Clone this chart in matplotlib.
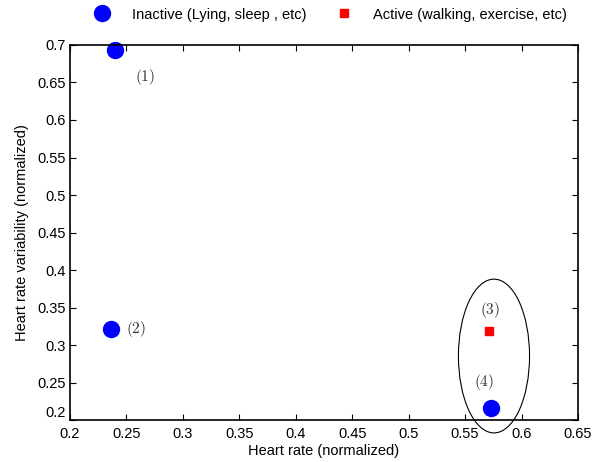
import matplotlib
matplotlib.use("Agg")
import matplotlib.pyplot as plt
from matplotlib.patches import Ellipse

plt.rcParams["font.family"] = ["Liberation Sans", "DejaVu Sans"]
plt.rcParams["mathtext.fontset"] = "cm"

# inactive (blue circles) and active (red square) samples
inactive_hr = [0.2399, 0.2363, 0.5730]
inactive_hrv = [0.6933, 0.3213, 0.2160]
active_hr = [0.5710]
active_hrv = [0.3187]

# point labels and where they sit
labels = ["(1)", "(2)", "(3)", "(4)"]
label_x = [0.2664, 0.2585, 0.5720, 0.5670]
label_y = [0.6570, 0.3210, 0.3470, 0.2507]

# grouping ellipse: centre, width, height (data units)
ell_center = (0.5756, 0.2853)
ell_w, ell_h = 0.063, 0.205

fig = plt.figure(figsize=(6.03, 4.62), dpi=100)
ax = fig.add_axes([0.116, 0.0909, 0.8425, 0.8117])

ax.plot(inactive_hr, inactive_hrv, "o", color="blue", ms=11.5, ls="none",
        label="Inactive (Lying, sleep , etc)", clip_on=False)
ax.plot(active_hr, active_hrv, "s", color="red", ms=6, ls="none",
        label="Active (walking, exercise, etc)")

for t, x, y in zip(labels, label_x, label_y):
    ax.text(x, y, "$" + t + "$", ha="center", va="center", fontsize=11,
            color="#333333")

ax.add_patch(Ellipse(ell_center, ell_w, ell_h, fill=False, ec="black",
                     lw=0.8, clip_on=False))

ax.set_xlim(0.2, 0.65)
ax.set_ylim(0.2, 0.7)
ax.set_xticks([0.2, 0.25, 0.3, 0.35, 0.4, 0.45, 0.5, 0.55, 0.6, 0.65])
ax.set_xticklabels(["0.2", "0.25", "0.3", "0.35", "0.4", "0.45", "0.5",
                    "0.55", "0.6", "0.65"])
ax.set_yticks([0.2, 0.25, 0.3, 0.35, 0.4, 0.45, 0.5, 0.55, 0.6, 0.65, 0.7])
ax.set_yticklabels(["0.2", "0.25", "0.3", "0.35", "0.4", "0.45", "0.5",
                    "0.55", "0.6", "0.65", "0.7"])
ax.tick_params(direction="in", top=True, right=True, labelsize=10.5,
               length=4, width=0.8)
ax.tick_params(axis="x", pad=5)
ax.tick_params(axis="y", pad=3)
# lift the bottom y label a little so it clears the x "0.2"
ax.get_yticklabels()[0].set_va("bottom")
for s in ax.spines.values():
    s.set_linewidth(1.2)

ax.set_xlabel("Heart rate (normalized)", fontsize=10.5, labelpad=2)
ax.set_ylabel("Heart rate variability (normalized)", fontsize=10.5, labelpad=6)

fig.legend(loc="upper center", bbox_to_anchor=(0.543, 1.012), ncol=2,
           frameon=False, fontsize=10.5, columnspacing=1.6, handletextpad=1.0)

fig.savefig("out.png", dpi=100)
